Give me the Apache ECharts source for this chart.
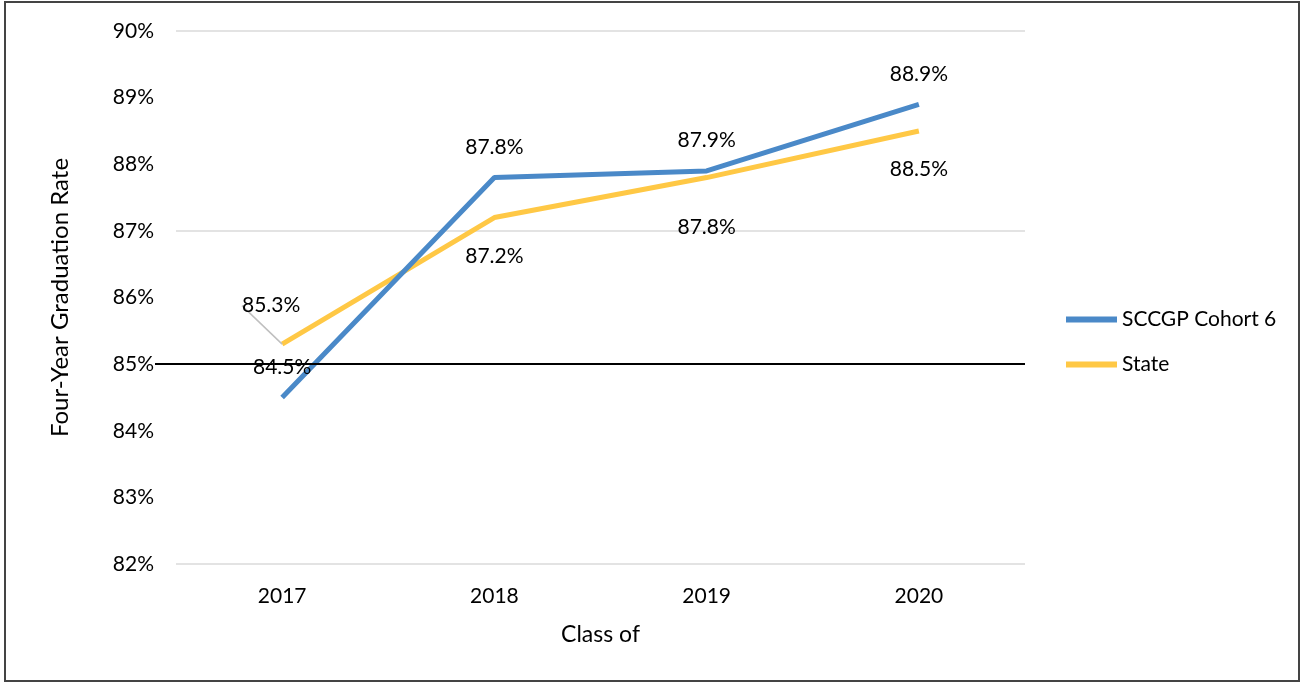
<!DOCTYPE html>
<html>
<head>
<meta charset="utf-8">
<script src="https://cdn.jsdelivr.net/npm/echarts@6/dist/echarts.min.js"></script>
<style>
  html, body { margin: 0; padding: 0; background: #fff; }
  #chart { width: 1302px; height: 683px; }
  #frame {
    position: absolute; left: 4px; top: 1px; width: 1292px; height: 677px;
    border: 2px solid #444; pointer-events: none;
  }
</style>
</head>
<body>
<div id="chart"></div>
<div id="frame"></div>
<script>
// chart data
const years = ["2017", "2018", "2019", "2020"];
const cohortRates = [84.5, 87.8, 87.9, 88.9];
const stateRates = [85.3, 87.2, 87.8, 88.5];
const gridValues = [82, 87, 90];
const benchmark = 85;

const FONT = "Lato";
const chart = echarts.init(document.getElementById("chart"));

const option = {
  animation: false,
  grid: { left: 176, right: 277, top: 31, bottom: 119 },
  legend: {
    orient: "vertical",
    left: 1061,
    top: 304,
    itemWidth: 51,
    itemHeight: 6,
    itemGap: 24,
    icon: "rect",
    textStyle: { fontSize: 21, color: "#000", fontFamily: FONT },
    data: ["SCCGP Cohort 6", "State"],
  },
  xAxis: {
    type: "category",
    data: years,
    name: "Class of",
    nameLocation: "middle",
    nameGap: 59,
    nameTextStyle: { fontSize: 23, color: "#000", fontFamily: FONT },
    axisLine: { show: false },
    axisTick: { show: false },
    axisLabel: { fontSize: 21, color: "#000", margin: 22, fontFamily: FONT },
  },
  yAxis: {
    type: "value",
    min: 82,
    max: 90,
    interval: 1,
    name: "Four-Year Graduation Rate",
    nameLocation: "middle",
    nameGap: 104,
    nameTextStyle: { fontSize: 24, color: "#000", fontFamily: FONT },
    axisLine: { show: false },
    axisTick: { show: false },
    axisLabel: {
      fontSize: 21,
      color: "#000",
      margin: 22,
      fontFamily: FONT,
      formatter: function (v) { return v + "%"; },
    },
    splitLine: { show: false },
  },
  series: [
    {
      name: "SCCGP Cohort 6",
      type: "line",
      data: cohortRates,
      symbol: "circle",
      symbolSize: 0,
      lineStyle: { color: "#4a89c8", width: 5 },
      itemStyle: { color: "#4a89c8" },
      label: {
        show: true,
        position: "top",
        distance: 20,
        fontSize: 21,
        color: "#000",
        fontFamily: FONT,
        formatter: function (p) { return p.value.toFixed(1) + "%"; },
      },
      // light grid lines on a few ticks only
      markLine: {
        silent: true,
        symbol: "none",
        label: { show: false },
        lineStyle: { color: "#e3e3e3", width: 2, type: "solid" },
        data: gridValues.map(function (v) { return { yAxis: v }; }),
        z: 1,
      },
      z: 3,
    },
    {
      name: "State",
      type: "line",
      data: stateRates.map(function (v, i) {
        if (i === 0) return { value: v, labelLine: { show: true } };
        return v;
      }),
      symbol: "circle",
      symbolSize: 0,
      lineStyle: { color: "#ffc845", width: 5 },
      itemStyle: { color: "#ffc845" },
      label: {
        show: true,
        position: "bottom",
        distance: 28,
        fontSize: 21,
        color: "#000",
        fontFamily: FONT,
        formatter: function (p) { return p.value.toFixed(1) + "%"; },
      },
      labelLine: { show: false, lineStyle: { color: "#bfbfbf", width: 1.5 } },
      labelLayout: function (p) {
        if (p.dataIndex === 0) return { dx: -11, dy: -77 };
        if (p.dataIndex === 2) return { dy: 11 };
        return {};
      },
      // black 85% benchmark line, starts a little left of the plot
      markLine: {
        silent: true,
        symbol: "none",
        label: { show: false },
        lineStyle: { color: "#000", width: 2, type: "solid" },
        data: [[{ x: 155, yAxis: benchmark }, { x: 1025, yAxis: benchmark }]],
        z: 5,
      },
      z: 2,
    },
  ],
};

chart.setOption(option);
</script>
</body>
</html>
